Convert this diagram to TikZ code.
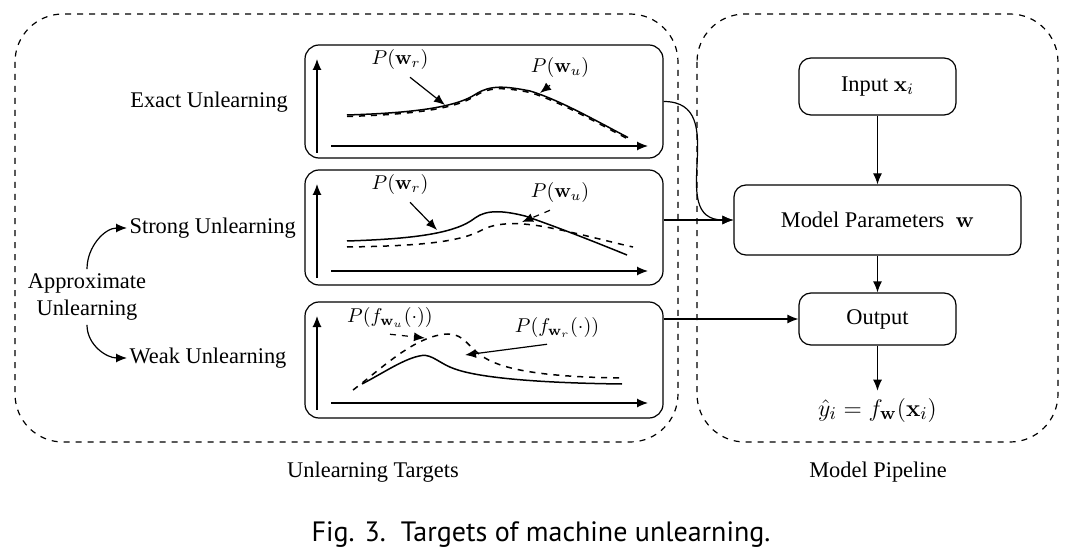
\documentclass[tikz,border=0pt]{standalone}
\usepackage[no-math]{fontspec}
\setmainfont{Liberation Serif}
\newfontfamily\capfont{PT Sans}
\usetikzlibrary{arrows.meta}

\tikzset{
  plotbox/.style={draw, semithick, rounded corners=7pt, minimum width=179pt},
  flowbox/.style={draw, semithick, rounded corners=6pt},
  groupframe/.style={draw, dashed, semithick, rounded corners=24pt},
  curve/.style={line width=0.75pt},
  plotlbl/.style={font=\fontsize{10}{12}\selectfont},
}

\begin{document}
\begin{tikzpicture}[x=0.5pt, y=-0.5pt, >={Latex[length=5.5pt,width=4.5pt]}, semithick,
    font=\fontsize{11.2}{13.5}\selectfont]
        \useasboundingbox (0,0) rectangle (1077,551);

        % dashed groups
        \draw[groupframe] (15,14) rectangle (678,442);
        \draw[groupframe] (697,14) rectangle (1058,442);
        \node (targetslbl) at (373,472) {Unlearning Targets};
        \node (pipelinelbl) at (878,472) {Model Pipeline};

        % plot boxes
        \node[plotbox, minimum height=56.5pt] (exact) at (484,101.5) {};
        \node[plotbox, minimum height=57.5pt] (strong) at (484,227.5) {};
        \node[plotbox, minimum height=58pt] (weak) at (484,360) {};
        \foreach \t in {45,170,302} {
            \draw[->] (317,{\t+108}) -- (317,{\t+14});
            \draw[->] (331,{\t+101}) -- (648,{\t+101});
        }

        % exact unlearning
        \draw[curve] (347,115) .. controls (410,113) and (455,108) .. (476,94)
            .. controls (490,85) and (505,86) .. (530,91) .. controls (560,100) and (600,123) .. (628,137.5);
        \draw[curve, dashed, yshift=-0.75pt] (347,115) .. controls (410,113) and (455,108) .. (476,94)
            .. controls (490,85) and (505,86) .. (530,91) .. controls (560,100) and (600,123) .. (628,137.5);
        \node[plotlbl] (pr1) at (400,60) {$P(\mathbf{w}_r)$};
        \node[plotlbl] (pu1) at (560,68) {$P(\mathbf{w}_u)$};
        \coordinate (tipr1) at (445,105);
        \coordinate (tipu1) at (540,93);
        \draw[->] ([xshift=5pt]pr1.south) -- (tipr1);
        \draw[->, dashed] ([xshift=-5pt]pu1.south) -- (tipu1);

        % strong unlearning
        \draw[curve] (347,241) .. controls (410,239) and (455,234) .. (475,218)
            .. controls (487,209) and (505,211) .. (525,216) .. controls (560,228) and (600,244) .. (627,255);
        \draw[curve, dashed] (347,247) .. controls (420,246) and (460,242) .. (482,230)
            .. controls (495,223) and (515,222) .. (540,226) .. controls (570,231) and (610,242) .. (633,247);
        \node[plotlbl] (pr2) at (400,185) {$P(\mathbf{w}_r)$};
        \node[plotlbl] (pu2) at (560,193) {$P(\mathbf{w}_u)$};
        \coordinate (tipr2) at (437,230);
        \coordinate (tipu2) at (522,222);
        \draw[->] ([xshift=5pt]pr2.south) -- (tipr2);
        \draw[->, dashed] ([xshift=-5pt]pu2.south) -- (tipu2);

        % weak unlearning
        \draw[curve] (362,384) .. controls (385,372) and (405,358) .. (422,355.5)
            .. controls (432,354) and (440,364) .. (455,369) .. controls (480,378) and (540,383) .. (622,384);
        \draw[curve, dashed] (353,390) .. controls (380,370) and (415,335) .. (448,334)
            .. controls (465,334) and (468,348) .. (485,358) .. controls (505,370) and (545,377) .. (622,378);
        \node[plotlbl] (pfu) at (390,317) {$P(f_{\mathbf{w}_u}(\cdot))$};
        \node[plotlbl] (pfr) at (557,327) {$P(f_{\mathbf{w}_r}(\cdot))$};
        \coordinate (tipfu) at (425,338);
        \coordinate (tipfr) at (465,355);
        \draw[->, dashed] (pfu.south) -- (tipfu);
        \draw[->] ([xshift=-5pt]pfr.south) -- (tipfr);

        % left labels
        \node (exactlbl) at (209,102) {Exact Unlearning};
        \node[anchor=west, inner sep=1pt] (stronglbl) at (127,228) {Strong Unlearning};
        \node[anchor=west, inner sep=1pt] (weaklbl) at (127,358) {Weak Unlearning};
        \node[align=center, inner sep=2pt] (approx) at (87,297) {Approximate\\Unlearning};
        \draw[->] (approx.north) to[out=90, in=180] (stronglbl.west);
        \draw[->] (approx.south) to[out=-90, in=180] (weaklbl.west);

        % pipeline
        \node[flowbox, minimum width=78.5pt, minimum height=28.5pt] (input) at (877.5,86.5) {Input $\mathbf{x}_i$};
        \node[flowbox, minimum width=143.5pt, minimum height=35pt] (model) at (877.5,220) {Model Parameters\enspace$\mathbf{w}$};
        \node[flowbox, minimum width=78.5pt, minimum height=26pt] (output) at (877.5,319) {Output};
        \node[font=\fontsize{12.5}{15}\selectfont] (yhat) at (877.5,410) {$\hat{y}_i = f_{\mathbf{w}}(\mathbf{x}_i)$};
        \draw[->] (input) -- (model);
        \draw[->] (model) -- (output);
        \draw[->] (output) -- (yhat);

        % connectors
        \draw[->] (exact.east) .. controls +(70,0) and +(-70,0) .. (model.west);
        \draw[->] (strong.east |- model.west) -- (model.west);
        \draw[->] (weak.east |- output.west) -- (output.west);

        \node[font=\capfont\fontsize{14}{16}\selectfont] (caption) at (541,535) {Fig. 3.\ \ Targets of machine unlearning.};
    \end{tikzpicture}
\end{document}
